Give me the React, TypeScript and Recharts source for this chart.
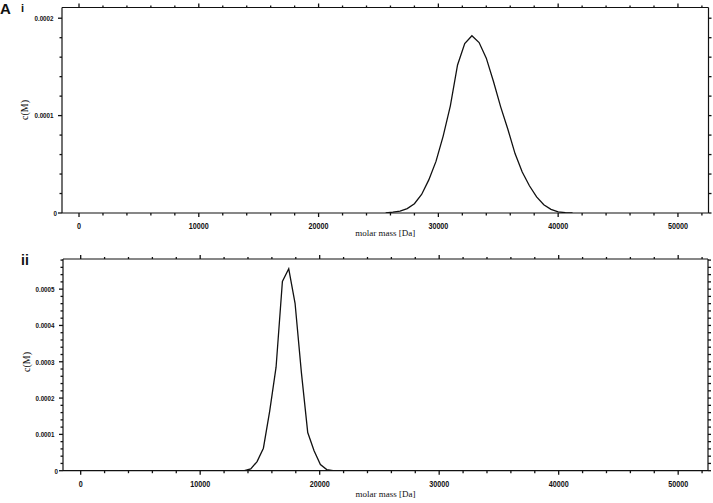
import React from 'react'
import { LineChart, Line, XAxis, YAxis, ReferenceLine } from 'recharts'

// panel i – molar mass [Da] and c(M) (values in units of 1e-5)
const massI = [
  25600, 26200, 26800, 27400, 28000, 28600, 29200, 29800, 30400, 31000, 31600, 32200, 32800, 33400,
  34000, 34600, 35200, 35800, 36400, 37000, 37600, 38200, 38800, 39400, 40000, 40600, 41200,
]
const concI = [
  0.02, 0.08, 0.2, 0.45, 0.95, 1.9, 3.4, 5.3, 7.9, 11.0, 15.2, 17.4, 18.2, 17.5,
  15.9, 13.5, 10.9, 8.6, 6.1, 4.2, 2.8, 1.65, 0.85, 0.38, 0.12, 0.03, 0,
]

// panel ii
const massII = [
  13700, 14230, 14760, 15290, 15820, 16350, 16880, 17410, 17940, 18470, 19000, 19530, 20060, 20590, 21120,
]
const concII = [0, 0.5, 2.5, 6.2, 16.5, 28.5, 52.1, 55.6, 46.1, 27, 10.5, 5.5, 1.7, 0.3, 0]

const UNIT = 1e-5

const xMajor = [0, 10000, 20000, 30000, 40000, 50000]
const xMinorStep = 2000
const yMajorI = [0, 0.0001, 0.0002]
const yMajorII = [0, 0.0001, 0.0002, 0.0003, 0.0004, 0.0005]
const yMinorStep = 0.00002

const INK = '#111'
const NUM_FONT = "'Liberation Sans', Arial, sans-serif"
const SERIF = "'Liberation Serif', 'DejaVu Serif', serif"

const steps = (max: number, step: number) =>
  Array.from({ length: Math.floor(max / step + 1e-6) + 1 }, (_, i) => +(i * step).toFixed(6))

const xTicks = steps(52000, xMinorStep)

const isMajorX = (v: number) => xMajor.includes(v)
const isMajorY = (v: number, majors: number[]) => majors.some((m) => Math.abs(m - v) < 1e-9)

const fmtY = (v: number) => (v === 0 ? '0' : v.toFixed(4))

// bottom axis tick, plus the matching outward tick on the top frame
function makeBottomTick(plotH: number) {
  return function BottomTick(props: any) {
    const { x, y, payload } = props
    const major = isMajorX(payload.value)
    const top = y - plotH
    return (
      <g>
        <path d={`M${x},${y}V${y + (major ? 4 : 2.5)}`} stroke={INK} strokeWidth={1.3} fill="none" />
        <path d={`M${x},${top}V${top - (major ? 4 : 2)}`} stroke={INK} strokeWidth={1.3} fill="none" />
        {major && (
          <text
            transform={`translate(${x},${y + 16}) scale(0.8,1)`}
            textAnchor="middle"
            fontSize={9}
            fontWeight="bold"
            fontFamily={NUM_FONT}
            fill={INK}
          >
            {payload.value}
          </text>
        )}
      </g>
    )
  }
}

// left axis tick, plus the matching outward tick on the right frame
function makeLeftTick(majors: number[], plotW: number) {
  return function LeftTick(props: any) {
    const { x, y, payload } = props
    const major = isMajorY(payload.value, majors)
    const right = x + plotW
    return (
      <g>
        <path d={`M${x},${y}H${x - (major ? 4 : 2.5)}`} stroke={INK} strokeWidth={1.3} fill="none" />
        <path d={`M${right},${y}H${right + 3}`} stroke={INK} strokeWidth={1.3} fill="none" />
        {major && (
          <text
            transform={`translate(${payload.value === 0 ? x - 5 : x - 8.5},${y + 2.8}) scale(0.8,1)`}
            textAnchor="end"
            fontSize={7.8}
            fontWeight="bold"
            fontFamily={NUM_FONT}
            fill={INK}
          >
            {fmtY(payload.value)}
          </text>
        )}
      </g>
    )
  }
}

type PanelProps = {
  mass: number[]
  conc: number[]
  height: number
  left: number
  right: number
  topH: number
  bottomH: number
  xDomain: [number, number]
  yMax: number
  yMajor: number[]
  titleOffset: number
}

function Panel({ mass, conc, height, left, right, topH, bottomH, xDomain, yMax, yMajor, titleOffset }: PanelProps) {
  const data = mass.map((m, i) => ({ m, c: conc[i] * UNIT }))
  const yTicks = steps(yMax, yMinorStep)
  const plotH = height - topH - bottomH
  const plotW = 713 - left - right
  const axisLine = { stroke: INK, strokeWidth: 1.2 }
  return (
    <LineChart width={713} height={height} data={data} margin={{ top: topH, right, bottom: 0, left: 0 }}>
      <XAxis
        dataKey="m"
        type="number"
        domain={xDomain}
        allowDataOverflow
        ticks={xTicks}
        interval={0}
        tick={React.createElement(makeBottomTick(plotH))}
        tickLine={false}
        tickSize={0}
        tickMargin={0}
        height={bottomH}
        axisLine={axisLine}
        label={{
          value: 'molar mass [Da]',
          position: 'insideBottom',
          offset: titleOffset,
          fill: INK,
          style: { fontSize: 9, fontFamily: SERIF, fill: INK },
        }}
      />
      <YAxis
        type="number"
        domain={[0, yMax]}
        allowDataOverflow
        ticks={yTicks}
        interval={0}
        tick={React.createElement(makeLeftTick(yMajor, plotW))}
        tickLine={false}
        tickSize={0}
        tickMargin={0}
        width={left}
        axisLine={axisLine}
      />
      <ReferenceLine y={yMax} stroke={INK} strokeWidth={1.2} />
      <ReferenceLine x={xDomain[1]} stroke={INK} strokeWidth={1.2} />
      <Line
        type="linear"
        dataKey="c"
        stroke={INK}
        strokeWidth={1.3}
        dot={false}
        isAnimationActive={false}
      />
    </LineChart>
  )
}

export default function App() {
  return (
    <div style={{ position: 'absolute', left: 0, top: 0, width: 713, height: 503, background: '#fff' }}>
      <div style={{ position: 'absolute', left: 0, top: 0 }}>
        <Panel
          mass={massI}
          conc={concI}
          height={240}
          left={62}
          right={4.5}
          topH={7.5}
          bottomH={27}
          xDomain={[-1420, 52550]}
          yMax={0.000211}
          yMajor={yMajorI}
          titleOffset={4}
        />
      </div>
      <div style={{ position: 'absolute', left: 0, top: 250 }}>
        <Panel
          mass={massII}
          conc={concII}
          height={253}
          left={63}
          right={5}
          topH={9}
          bottomH={32.3}
          xDomain={[-1480, 52495]}
          yMax={0.000583}
          yMajor={yMajorII}
          titleOffset={6}
        />
      </div>
      <svg
        width={713}
        height={503}
        style={{ position: 'absolute', left: 0, top: 0, pointerEvents: 'none' }}
      >
        <text x={0} y={14} fontSize={15} fontWeight="bold" fontFamily="'Liberation Sans', Arial, sans-serif" fill={INK}>
          A
        </text>
        <text x={21} y={11.5} fontSize={11} fontWeight="bold" fontFamily="'Liberation Sans', Arial, sans-serif" fill={INK}>
          i
        </text>
        <text x={21} y={265} fontSize={14} fontWeight="bold" fontFamily="'Liberation Sans', Arial, sans-serif" fill={INK}>
          ii
        </text>
        <text
          transform="translate(28,110) rotate(-90)"
          textAnchor="middle"
          fontSize={10}
          fontFamily={SERIF}
          fill={INK}
        >
          c(M)
        </text>
        <text
          transform="translate(30,362) rotate(-90)"
          textAnchor="middle"
          fontSize={10}
          fontFamily={SERIF}
          fill={INK}
        >
          c(M)
        </text>
      </svg>
    </div>
  )
}
